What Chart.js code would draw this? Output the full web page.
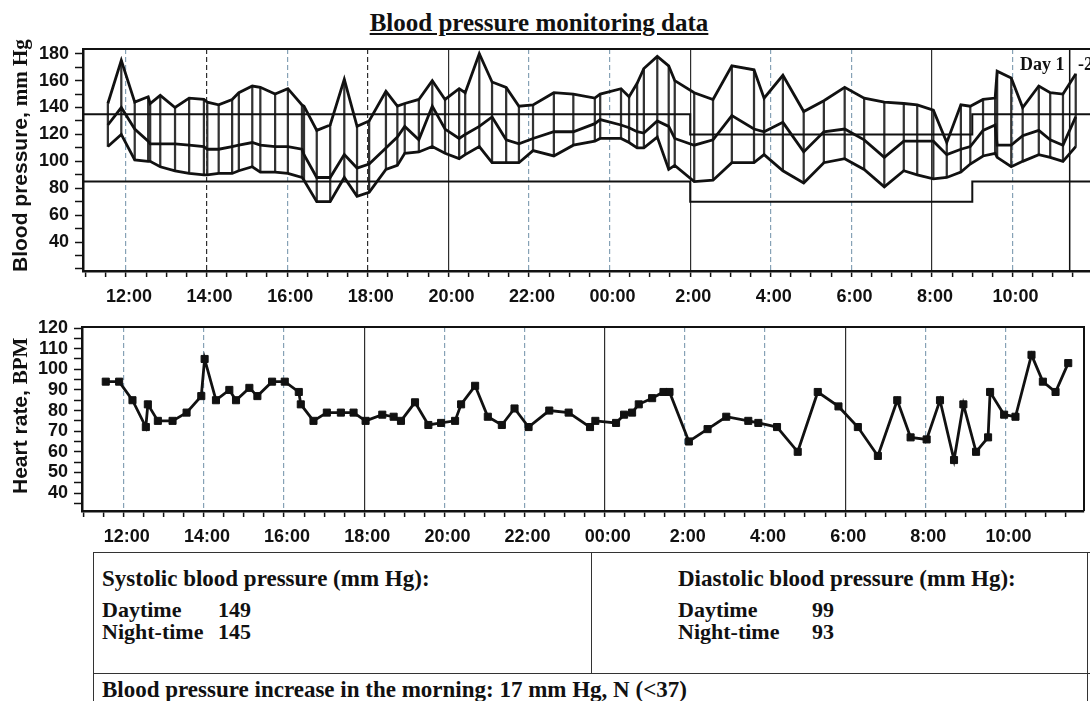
<!DOCTYPE html>
<html>
<head>
<meta charset="UTF-8">
<title>Blood pressure monitoring data</title>
<script src="https://cdn.jsdelivr.net/npm/chart.js"></script>
<style>
  body { margin: 0; width: 1090px; height: 701px; overflow: hidden; position: relative; background: #fff; color: #111; }
  canvas { position: absolute; left: 0; }
  .serif { font-family: "Liberation Serif", "Times New Roman", serif; font-weight: bold; }
  .sans { font-family: "Liberation Sans", Arial, sans-serif; font-weight: bold; }
  #title { position: absolute; left: 0; top: 9px; width: 1078px; text-align: center; font-size: 25px; line-height: 28px; text-decoration: underline; }
  .ytitle { position: absolute; left: 9px; font-size: 21px; line-height: 22px; white-space: nowrap; transform: rotate(-90deg); transform-origin: left top; }
  .cell { position: absolute; font-size: 22px; line-height: 24px; white-space: nowrap; }
  .rule { position: absolute; background: #333; }
</style>
</head>

<body>
<div id="title" class="serif">Blood pressure monitoring data</div>

<canvas id="bpChart" width="1110" height="293" style="top:29px"></canvas>
<canvas id="hrChart" width="1090" height="248" style="top:307px"></canvas>

<div class="ytitle sans" style="top:272px">Blood pressure, <span class="serif">mm Hg</span></div>
<div class="ytitle sans" style="top:494px">Heart rate, <span class="serif">BPM</span></div>

<div class="cell serif" style="left:1020px;top:54px;font-size:18px;line-height:20px">Day 1</div>
<div class="cell serif" style="left:1078px;top:54px;font-size:18px;line-height:20px">-2</div>

<!-- summary table -->
<div class="rule" style="left:93px;top:552px;width:997px;height:1px"></div>
<div class="rule" style="left:93px;top:673px;width:997px;height:1px"></div>
<div class="rule" style="left:93px;top:552px;width:1px;height:149px"></div>
<div class="rule" style="left:591px;top:552px;width:1px;height:121px"></div>
<div class="rule" style="left:1087px;top:552px;width:1px;height:149px"></div>

<div class="cell serif" style="left:102px;top:567px;font-size:23px">Systolic blood pressure (mm Hg):</div>
<div class="cell serif" style="left:102px;top:598px">Daytime</div>
<div class="cell serif" style="left:218px;top:598px" id="sysDay"></div>
<div class="cell serif" style="left:102px;top:620px">Night-time</div>
<div class="cell serif" style="left:218px;top:620px" id="sysNight"></div>

<div class="cell serif" style="left:678px;top:567px;font-size:23px">Diastolic blood pressure (mm Hg):</div>
<div class="cell serif" style="left:678px;top:598px">Daytime</div>
<div class="cell serif" style="left:812px;top:598px" id="diaDay"></div>
<div class="cell serif" style="left:678px;top:620px">Night-time</div>
<div class="cell serif" style="left:812px;top:620px" id="diaNight"></div>

<div class="cell serif" style="left:102px;top:678px;font-size:23px" id="morning"></div>

<script>
    // measurement times (day 1 11:33 -> day 2 11:34)
    const times = [
        '11:33','11:53','12:13','12:33','12:36','12:51','13:13','13:34','13:56','14:01',
        '14:18','14:38','14:48','15:08','15:20','15:42','16:01','16:22','16:25','16:44',
        '17:04','17:25','17:44','18:02','18:27','18:44','18:55','19:16','19:36','19:55',
        '20:16','20:25','20:46','21:05','21:26','21:45','22:06','22:37','23:06','23:38',
        '23:46','00:17','00:29','00:41','00:51','01:11','01:28','01:37','02:06','02:34',
        '03:02','03:35','03:50','04:18','04:49','05:19','05:50','06:19','06:49','07:18',
        '07:38','08:02','08:22','08:43','08:57','09:16','09:34','09:37','09:58','10:15',
        '10:39','10:56','11:15','11:34'
    ];

    const systolic = [
        143,175,144,148,143,149,140,147,146,144,
        142,146,151,156,155,150,154,142,141,123,
        127,161,126,130,152,141,143,146,160,146,
        154,151,180,159,155,141,142,151,150,147,
        150,154,148,158,169,178,171,160,151,146,
        171,168,147,164,137,145,155,147,144,143,
        142,138,114,142,141,146,147,167,162,140,
        156,151,150,165
    ];

    const meanBP = [
        127,140,124,115,113,113,113,112,111,109,
        109,111,112,114,112,111,111,109,105,88,
        88,105,95,98,110,118,126,116,141,124,
        117,120,126,133,116,113,117,122,122,128,
        131,127,125,122,121,130,126,117,112,116,
        134,124,122,129,107,122,124,116,103,115,
        115,115,105,109,111,123,127,112,112,119,
        123,116,112,133
    ];

    const diastolic = [
        111,120,101,100,100,96,93,91,90,90,
        91,91,93,96,92,92,91,88,86,70,
        70,88,74,77,94,97,106,107,111,106,
        102,105,111,99,99,99,108,104,112,115,
        117,117,114,110,110,118,94,97,85,86,
        99,99,105,93,84,99,102,94,81,93,
        90,87,88,92,98,104,106,103,96,100,
        105,103,100,111
    ];

    const heartRate = [
        94,94,85,72,83,75,75,79,87,105,
        85,90,85,91,87,94,94,89,83,75,
        79,79,79,75,78,77,75,84,73,74,
        75,83,92,77,73,81,72,80,79,72,
        75,74,78,79,83,86,89,89,65,71,
        77,75,74,72,60,89,82,72,58,85,
        67,66,85,56,83,60,67,89,78,77,
        107,94,89,103
    ];

    // thresholds: [day, night]
    const sysLimits = [135, 120];
    const diaLimits = [85, 70];
    const nightPeriod = ['2:00', '9:00'];   // day 2
    const dayMarker = '11:25';              // day 2

    const hourTicks = [12, 14, 16, 18, 20, 22, 24, 26, 28, 30, 32, 34];
    const bpTicks = [40, 60, 80, 100, 120, 140, 160, 180];
    const hrTicks = [40, 50, 60, 70, 80, 90, 100, 110, 120];

    // summary table
    const sysSummary = [149, 145];   // daytime, night-time
    const diaSummary = [99, 93];
    const morningRise = [17, 37];    // value, norm (<)

    document.getElementById('sysDay').textContent = sysSummary[0];
    document.getElementById('sysNight').textContent = sysSummary[1];
    document.getElementById('diaDay').textContent = diaSummary[0];
    document.getElementById('diaNight').textContent = diaSummary[1];
    document.getElementById('morning').textContent =
        'Blood pressure increase in the morning: ' + morningRise[0] + ' mm Hg, N (<' + morningRise[1] + ')';

    function toHours(str, day) {
        const p = str.split(':').map(Number);
        return day * 24 + p[0] + p[1] / 60;
    }

    // times go past midnight -> next day
    let day = 0, prev = -1;
    const timeX = times.map(function (s) {
        let t = toHours(s, day);
        if (t < prev) { day++; t = toHours(s, day); }
        prev = t;
        return t;
    });

    const nightStart = toHours(nightPeriod[0], 1);
    const nightEnd = toHours(nightPeriod[1], 1);
    const markerX = toHours(dayMarker, 1);

    function hourLabel(v) {
        if (!hourTicks.includes(v)) return '';
        const h = v % 24;
        return h === 0 ? '00:00' : h + ':00';
    }

    function halfHours(scale) {
        const ticks = [];
        for (let v = Math.ceil(scale.min * 2) / 2; v <= scale.max; v += 0.5) ticks.push({ value: v });
        scale.ticks = ticks;
    }

    function stepTicks(step) {
        return function (scale) {
            const ticks = [];
            for (let v = Math.ceil(scale.min / step) * step; v <= scale.max; v += step) ticks.push({ value: v });
            scale.ticks = ticks;
        };
    }

    function gridColor(dark) {
        return function (ctx) {
            const v = ctx.tick ? ctx.tick.value : null;
            if (!hourTicks.includes(v)) return 'rgba(0,0,0,0)';
            return dark.includes(v) ? '#2e2e2e' : '#86a2b6';
        };
    }

    function gridDash(solid) {
        return function (ctx) {
            const v = ctx.tick ? ctx.tick.value : null;
            return solid.includes(v) ? [] : [5, 3];
        };
    }

    function limitLine(limits, xMin, xMax) {
        return [
            { x: xMin, y: limits[0] }, { x: nightStart, y: limits[0] },
            { x: nightStart, y: limits[1] }, { x: nightEnd, y: limits[1] },
            { x: nightEnd, y: limits[0] }, { x: xMax, y: limits[0] }
        ];
    }

    // box round the plot area
    const frame = {
        id: 'frame',
        afterDatasetsDraw(chart) {
            const a = chart.chartArea;
            const ctx = chart.ctx;
            ctx.save();
            ctx.strokeStyle = '#111';
            ctx.lineWidth = 2;
            ctx.beginPath();
            ctx.moveTo(a.left, a.top);
            ctx.lineTo(a.right, a.top);
            ctx.lineTo(a.right, a.bottom);
            ctx.stroke();
            ctx.restore();
        }
    };

    Chart.defaults.font.family = '"Liberation Sans", Arial, sans-serif';
    Chart.defaults.color = '#111';

    const tickFont = { size: 18, weight: 'bold' };
    const ink = '#111';

    // ---- blood pressure ----
    const BP_XMIN = 10.933, BP_XMAX = 36.417, BP_YMIN = 18.5, BP_YMAX = 183.5;

    const bpLine = { type: 'line', borderColor: ink, borderWidth: 2.8, pointRadius: 0, tension: 0, order: 0 };

    const bpConfig = {
        type: 'line',
        data: {
            datasets: [
                Object.assign({ data: timeX.map((t, i) => ({ x: t, y: systolic[i] })) }, bpLine),
                Object.assign({ data: timeX.map((t, i) => ({ x: t, y: meanBP[i] })) }, bpLine),
                Object.assign({ data: timeX.map((t, i) => ({ x: t, y: diastolic[i] })) }, bpLine),
                { type: 'line', data: limitLine(sysLimits, BP_XMIN, BP_XMAX), borderColor: ink, borderWidth: 2, pointRadius: 0, order: 1 },
                { type: 'line', data: limitLine(diaLimits, BP_XMIN, BP_XMAX), borderColor: ink, borderWidth: 2, pointRadius: 0, order: 1 },
                { type: 'line', data: [{ x: markerX, y: BP_YMIN }, { x: markerX, y: BP_YMAX }], borderColor: ink, borderWidth: 1.5, pointRadius: 0, order: 1 },
                {
                    type: 'bar',
                    data: timeX.map((t, i) => ({ x: t, y: [diastolic[i], systolic[i]] })),
                    backgroundColor: '#333',
                    barThickness: 1.6,
                    order: 2
                }
            ]
        },
        options: {
            responsive: false,
            animation: false,
            events: [],
            layout: { padding: { left: 0, right: 0, top: 20, bottom: 0 } },
            plugins: { legend: { display: false }, tooltip: { enabled: false } },
            scales: {
                x: {
                    type: 'linear',
                    min: BP_XMIN,
                    max: BP_XMAX,
                    offset: false,
                    afterBuildTicks: halfHours,
                    afterFit: function (s) { s.height = 51; },
                    grid: {
                        offset: false,
                        color: gridColor([14, 18, 20, 26, 32]),
                        lineWidth: 1.2,
                        tickColor: ink,
                        tickLength: 6,
                        tickWidth: 1.5
                    },
                    border: { color: ink, width: 2.5, dash: gridDash([20, 26, 32]) },
                    ticks: {
                        autoSkip: false, maxRotation: 0, minRotation: 0,
                        padding: 9, labelOffset: 3, font: tickFont, color: ink,
                        callback: hourLabel
                    }
                },
                y: {
                    min: BP_YMIN,
                    max: BP_YMAX,
                    beginAtZero: false,
                    afterBuildTicks: stepTicks(10),
                    afterFit: function (s) { s.width = 83; },
                    grid: { drawOnChartArea: false, tickColor: ink, tickLength: 8, tickWidth: 1.5 },
                    border: { color: ink, width: 2.5 },
                    ticks: {
                        autoSkip: false, padding: 6, font: tickFont, color: ink,
                        callback: function (v) { return bpTicks.includes(v) ? String(v) : ''; }
                    }
                }
            }
        },
        plugins: [frame]
    };

    new Chart(document.getElementById('bpChart').getContext('2d'), bpConfig);

    // ---- heart rate ----
    const HR_XMIN = 10.957, HR_XMAX = 35.96, HR_YMIN = 31.3, HR_YMAX = 120.5;

    const hrConfig = {
        type: 'line',
        data: {
            datasets: [{
                data: timeX.map((t, i) => ({ x: t, y: heartRate[i] })),
                borderColor: ink,
                borderWidth: 2.8,
                tension: 0,
                pointStyle: 'rect',
                pointRadius: 5,
                pointBackgroundColor: ink,
                pointBorderColor: ink,
                pointBorderWidth: 1
            }]
        },
        options: {
            responsive: false,
            animation: false,
            events: [],
            layout: { padding: { left: 0, right: 1, top: 20, bottom: 0 } },
            plugins: { legend: { display: false }, tooltip: { enabled: false } },
            scales: {
                x: {
                    type: 'linear',
                    min: HR_XMIN,
                    max: HR_XMAX,
                    afterBuildTicks: halfHours,
                    afterFit: function (s) { s.height = 44; },
                    grid: {
                        color: gridColor([18, 24, 30]),
                        lineWidth: 1.2,
                        tickColor: ink,
                        tickLength: 6,
                        tickWidth: 1.5
                    },
                    border: { color: ink, width: 2.5, dash: gridDash([18, 24, 30]) },
                    ticks: {
                        autoSkip: false, maxRotation: 0, minRotation: 0,
                        padding: 9, labelOffset: 3, font: tickFont, color: ink,
                        callback: hourLabel
                    }
                },
                y: {
                    min: HR_YMIN,
                    max: HR_YMAX,
                    afterBuildTicks: stepTicks(5),
                    afterFit: function (s) { s.width = 82; },
                    grid: { drawOnChartArea: false, tickColor: ink, tickLength: 8, tickWidth: 1.5 },
                    border: { color: ink, width: 2.5 },
                    ticks: {
                        autoSkip: false, padding: 6, font: tickFont, color: ink,
                        callback: function (v) { return hrTicks.includes(v) ? String(v) : ''; }
                    }
                }
            }
        },
        plugins: [frame]
    };

    new Chart(document.getElementById('hrChart').getContext('2d'), hrConfig);
</script>
</body>
</html>
